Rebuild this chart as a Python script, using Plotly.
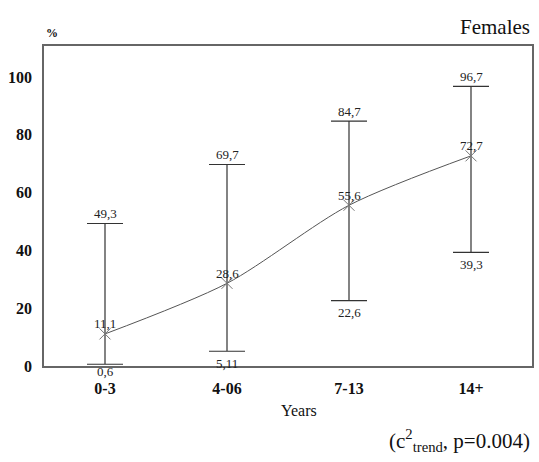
import plotly.graph_objects as go

categories = ["0-3", "4-06", "7-13", "14+"]
means = [11.1, 28.6, 55.6, 72.7]
upper = [49.3, 69.7, 84.7, 96.7]
lower = [0.6, 5.11, 22.6, 39.3]
mean_labels = ["11,1", "28,6", "55,6", "72,7"]
upper_labels = ["49,3", "69,7", "84,7", "96,7"]
lower_labels = ["0,6", "5,11", "22,6", "39,3"]
y_ticks = [0, 20, 40, 60, 80, 100]

xi = list(range(len(categories)))
serif = "Liberation Serif, Times New Roman, serif"

fig = go.Figure()
fig.add_trace(go.Scatter(
    x=xi, y=means, mode="lines+markers",
    line=dict(color="#555555", width=1, shape="spline", smoothing=0.8),
    marker=dict(symbol="x-thin", size=11, line=dict(color="#777777", width=1), color="#777777"),
    error_y=dict(type="data", symmetric=False,
                 array=[u - m for u, m in zip(upper, means)],
                 arrayminus=[m - l for m, l in zip(means, lower)],
                 color="#333333", thickness=1.2, width=18),
    showlegend=False, hoverinfo="skip",
))

lab_font = dict(family=serif, size=13, color="#222")
lower_shift = [-7, -12, -12, -12]
for i in xi:
    fig.add_annotation(x=i, y=means[i], text=mean_labels[i], showarrow=False,
                       yanchor="middle", yshift=10, font=lab_font)
    fig.add_annotation(x=i, y=upper[i], text=upper_labels[i], showarrow=False,
                       yanchor="middle", yshift=10, font=lab_font)
    fig.add_annotation(x=i, y=lower[i], text=lower_labels[i], showarrow=False,
                       yanchor="middle", yshift=lower_shift[i], font=lab_font)

fig.add_annotation(xref="paper", yref="paper", x=1.0, y=1.0, yshift=19, xanchor="right",
                   yanchor="middle", text="Females", showarrow=False,
                   font=dict(family=serif, size=21, color="#111"))
fig.add_annotation(xref="paper", yref="paper", x=0.0, y=1.0, yshift=13, xshift=0, xanchor="left",
                   yanchor="middle", text="<b>%</b>", showarrow=False,
                   font=dict(family=serif, size=12, color="#111"))
fig.add_annotation(xref="paper", yref="paper", x=0.522, y=0, yshift=-44, xanchor="center",
                   yanchor="middle", text="Years", showarrow=False,
                   font=dict(family=serif, size=16, color="#111"))
fig.add_annotation(xref="paper", yref="paper", x=1.0, y=0, yshift=-74, xanchor="right",
                   yanchor="middle", text="(c<sup>2</sup><sub>trend</sub>, p=0.004)", showarrow=False,
                   font=dict(family=serif, size=21, color="#111"))

tick_font = dict(family=serif, size=16, color="#111", weight="bold")

fig.update_layout(
    width=539, height=462,
    margin=dict(l=44, r=5, t=46, b=96),
    paper_bgcolor="white", plot_bgcolor="white",
    font=dict(family=serif),
    xaxis=dict(range=[-0.5, 3.5], tickvals=xi, ticktext=categories,
               showgrid=False, zeroline=False, showline=True, mirror=True,
               linecolor="#666666", linewidth=1.5,
               ticks="outside", ticklen=7, tickcolor="rgba(0,0,0,0)",
               tickfont=tick_font),
    yaxis=dict(range=[0, 110.7], tickvals=y_ticks, ticktext=[str(v) for v in y_ticks],
               showgrid=False, zeroline=False, showline=True, mirror=True,
               linecolor="#666666", linewidth=1.5,
               ticks="outside", ticklen=7, tickcolor="rgba(0,0,0,0)",
               tickfont=tick_font),
)

fig.write_html("out.html", config={"displayModeBar": False},
               post_script="document.body.style.margin='0';document.body.style.overflow='hidden';")
